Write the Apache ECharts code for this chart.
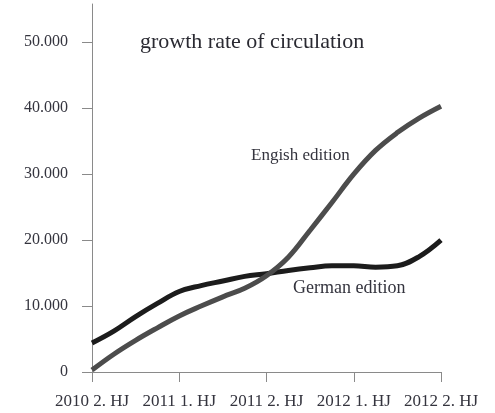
<!DOCTYPE html>
<html>
<head>
<meta charset="utf-8">
<script src="https://cdn.jsdelivr.net/npm/echarts@6/dist/echarts.min.js"></script>
<style>
html,body{margin:0;padding:0;background:#fff;}
#c{width:495px;height:413px;}
</style>
</head>
<body>
<div id="c"></div>
<script>
var xLabels = ['2010 2. HJ', '2011 1. HJ', '2011 2. HJ', '2012 1. HJ', '2012 2. HJ'];
var xPos = [0, 0.25, 0.5, 0.75, 1, 1.25, 1.5, 1.75, 2, 2.25, 2.5, 2.75, 3, 3.25, 3.5, 3.75, 4];
var germanValues = [4400, 6200, 8400, 10400, 12200, 13100, 13800, 14500, 14900, 15400, 15800, 16100, 16100, 15900, 16100, 17500, 20000];
var englishValues = [300, 2700, 4800, 6700, 8500, 10000, 11400, 12700, 14600, 17400, 21500, 25700, 30000, 33600, 36300, 38500, 40300];
var yTicks = [0, 10000, 20000, 30000, 40000, 50000];
var titleText = 'growth rate of circulation';
var englishLabel = 'Engish edition';
var germanLabel = 'German edition';

function pairs(xs, ys) { return xs.map(function (x, i) { return [x, ys[i]]; }); }
var serif = "'Liberation Serif', 'DejaVu Serif', serif";
var txt = '#34343e';
var axisCol = '#8a8a8a';

var chart = echarts.init(document.getElementById('c'), null, {renderer: 'canvas'});
chart.setOption({
  animation: false,
  backgroundColor: '#fff',
  title: {
    text: titleText, left: 135, top: 26,
    textStyle: {fontFamily: serif, fontWeight: 'normal', fontSize: 22, color: '#2a2a32'}
  },
  grid: {left: 92, right: 54, top: 4, bottom: 41, containLabel: false},
  xAxis: {
    type: 'value', min: 0, max: 4, interval: 1,
    axisLine: {show: true, lineStyle: {color: axisCol, width: 1}},
    axisTick: {show: true, length: 10, lineStyle: {color: axisCol}},
    splitLine: {show: false},
    axisLabel: {
      margin: 21, fontFamily: serif, fontSize: 17, color: txt,
      formatter: function (v) { return xLabels[Math.round(v)] || ''; }
    }
  },
  yAxis: {
    type: 'value', min: 0, max: 55800,
    axisLine: {show: true, lineStyle: {color: axisCol, width: 1}},
    axisTick: {show: true, length: 10, customValues: yTicks, lineStyle: {color: axisCol}},
    splitLine: {show: false},
    axisLabel: {
      margin: 24, fontFamily: serif, fontSize: 16, color: txt,
      customValues: yTicks,
      formatter: function (v) { return v === 0 ? '0' : (v / 1000) + '.000'; }
    }
  },
  series: [
    {
      name: 'German edition', type: 'line', smooth: 0.4, symbol: 'none',
      data: pairs(xPos, germanValues),
      lineStyle: {color: '#1c1c1c', width: 5}
    },
    {
      name: 'English edition', type: 'line', smooth: 0.4, symbol: 'none',
      data: pairs(xPos, englishValues),
      lineStyle: {color: '#4c4c4c', width: 5}
    }
  ],
  graphic: [
    {type: 'text', left: 251, top: 147, style: {text: englishLabel, font: '17px ' + serif, fill: txt}},
    {type: 'text', left: 293, top: 279, style: {text: germanLabel, font: '18px ' + serif, fill: txt}}
  ]
});
</script>
</body>
</html>
